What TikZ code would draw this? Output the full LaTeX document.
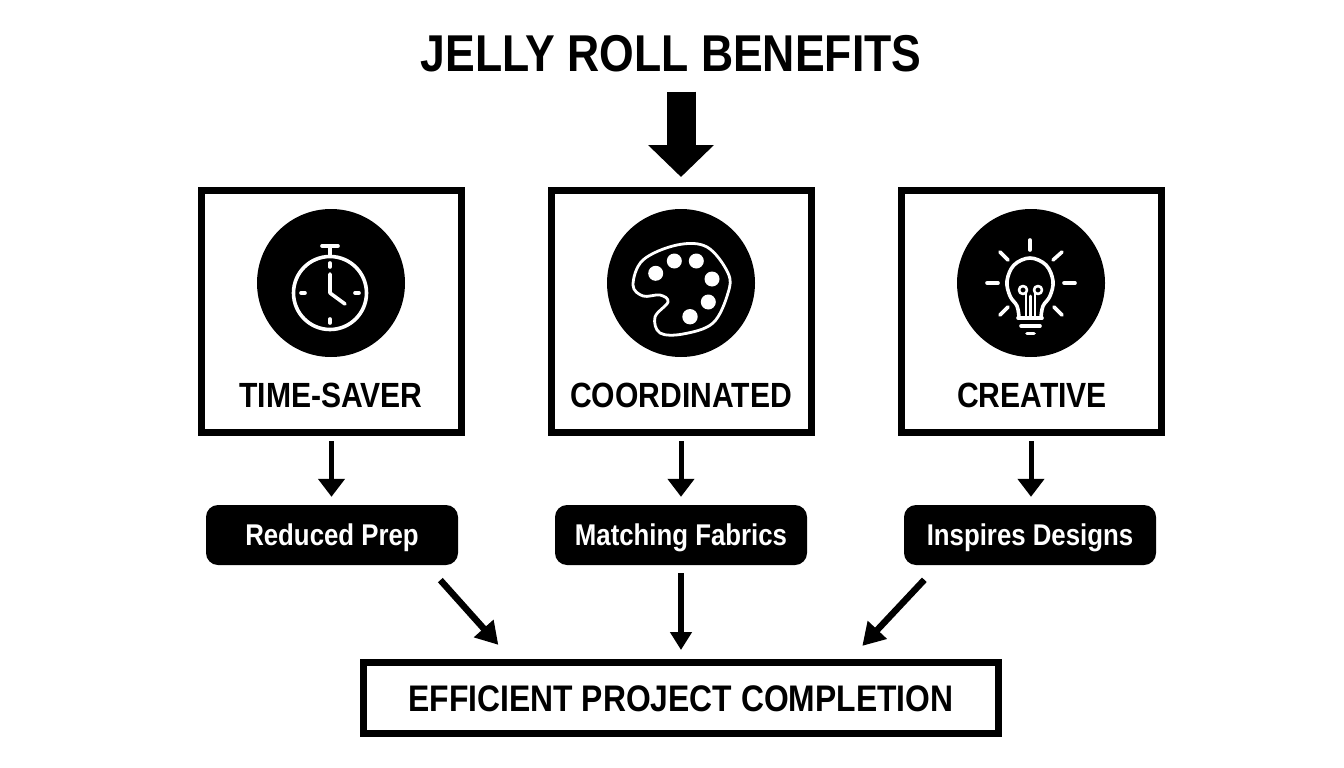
\documentclass[tikz,border=0pt]{standalone}
\usepackage{fontspec}
\setmainfont[FakeStretch=0.86]{Liberation Sans}
\usetikzlibrary{arrows.meta}

\tikzstyle{title} = [inner sep=0pt,text height=39pt,text depth=0pt,font=\fontsize{51.8}{52}\selectfont\bfseries]
\tikzstyle{benefit} = [rectangle,line width=7pt,minimum width=260pt,minimum height=242pt,draw=black]
\tikzstyle{badge} = [circle,fill=black,inner sep=0pt,minimum size=148pt]
\tikzstyle{caption} = [inner sep=0pt,text height=25pt,text depth=0pt,font=\fontsize{35}{35}\selectfont\bfseries]
\tikzstyle{result} = [rectangle,rounded corners=12pt,fill=black,text=white,minimum width=252pt,minimum height=60pt,inner sep=0pt,text height=21pt,text depth=0pt,font=\fontsize{30}{30}\selectfont\bfseries]
\tikzstyle{outcome} = [rectangle,line width=7pt,minimum width=635pt,minimum height=71pt,draw=black,inner sep=0pt,text height=26pt,text depth=0pt,font=\fontsize{37}{37}\selectfont\bfseries]
\tikzstyle{icon} = [draw=white,line width=3.6pt,line cap=round,line join=round]

\begin{document}
\begin{tikzpicture}[x=1pt,y=-1pt]

	\useasboundingbox (0,0) rectangle (1344,768);

	\node (title) [title] at (671,52) {JELLY ROLL BENEFITS};

	\node (time_box) [benefit] at (331.5,311.5) {};
	\node (coord_box) [benefit] at (681,311.5) {};
	\node (creative_box) [benefit] at (1031,311.5) {};

	\node (time_badge) [badge] at (331,283) {};
	\node (coord_badge) [badge] at (681,283) {};
	\node (creative_badge) [badge] at (1031,283) {};

	\node (time_text) [caption] at (331,395) {TIME-SAVER};
	\node (coord_text) [caption] at (681,395) {COORDINATED};
	\node (creative_text) [caption] at (1032,395) {CREATIVE};

	\node (prep) [result] at (332,535) {Reduced Prep};
	\node (fabrics) [result] at (681,535) {Matching Fabrics};
	\node (designs) [result] at (1030,535) {Inspires Designs};

	\node (project) [outcome] at (681,698) {EFFICIENT PROJECT COMPLETION};

	\path
		(title.south -| coord_box.north) edge[line width=29pt,-{Triangle[length=32pt,width=64pt]},shorten <=20pt,shorten >=10pt] (coord_box.north)
		;

	\path[line width=5pt,-{Triangle[length=18pt,width=26pt]},shorten <=5pt,shorten >=8pt]
		(time_box.south) edge (prep.north -| time_box.south)
		(coord_box.south) edge (fabrics.north)
		(creative_box.south) edge (designs.north -| creative_box.south)
		;

	\path[line width=6.5pt]
		([xshift=95pt]prep.south) edge[-{Triangle[length=22pt,width=25pt]},shorten <=20pt,shorten >=19pt] ([xshift=-170pt]project.north)
		(fabrics.south) edge[-{Triangle[length=18pt,width=21pt]},shorten <=8pt,shorten >=9pt] (project.north)
		([xshift=-92pt]designs.south) edge[-{Triangle[length=22pt,width=25pt]},shorten <=20pt,shorten >=18pt] ([xshift=169pt]project.north)
		;

	% stopwatch
	\draw[icon] (330,293) circle (36.5pt);
	\draw[icon] (330,248) -- (330,256);
	\draw[icon] (322,246) -- (338,246);
	\draw[icon] (330,263) -- (330,267);
	\draw[icon] (330,319) -- (330,323);
	\draw[icon] (301,293) -- (305,293);
	\draw[icon] (355,293) -- (359,293);
	\draw[icon] (330,274) -- (330,293) -- (345,304);

	% palette
	\draw[icon,line width=2.8pt] plot[smooth cycle,tension=0.6] coordinates {
		(633,285) (643,260) (677,245) (707,247) (728,273) (728,293) (713,323)
		(683,334) (660,333) (655,317) (668,302) (660,295) (643,296)};
	\fill[white] (655.7,273.3) circle (7.5pt) (674.3,261) circle (7.5pt)
		(696.3,261) circle (7.5pt) (712,279) circle (7.5pt)
		(708.3,302) circle (7.5pt) (690,316.7) circle (7.7pt);

	% light bulb
	\draw[icon] (1030,240) -- (1030,250);
	\draw[icon] (1000,252) -- (1008,260);
	\draw[icon] (1062,252) -- (1053,260);
	\draw[icon] (987,283) -- (998,283);
	\draw[icon] (1064,283) -- (1075,283);
	\draw[icon] (1000,315) -- (1008,307);
	\draw[icon] (1062,315) -- (1054,307);
	\draw[icon] plot[smooth,tension=0.6] coordinates {
		(1019,317) (1017,306) (1010,296) (1007,281) (1014,265) (1030,258)
		(1046,265) (1053,281) (1050,296) (1043,306) (1041,317)};
	\draw[icon] (1018,318) -- (1042,318);
	\draw[icon] (1021,326) -- (1040,326);
	\draw[icon] (1027,333.5) -- (1034,333.5);
	\draw[icon,line width=2.6pt] (1026,316) -- (1026,293);
	\draw[icon,line width=2.6pt] (1035,316) -- (1035,293);
	\draw[icon,line width=2.6pt] (1030.5,316) -- (1030.5,296);
	\draw[icon,line width=2.6pt] (1023,290) circle (4pt);
	\draw[icon,line width=2.6pt] (1038,290) circle (4pt);

\end{tikzpicture}
\end{document}
